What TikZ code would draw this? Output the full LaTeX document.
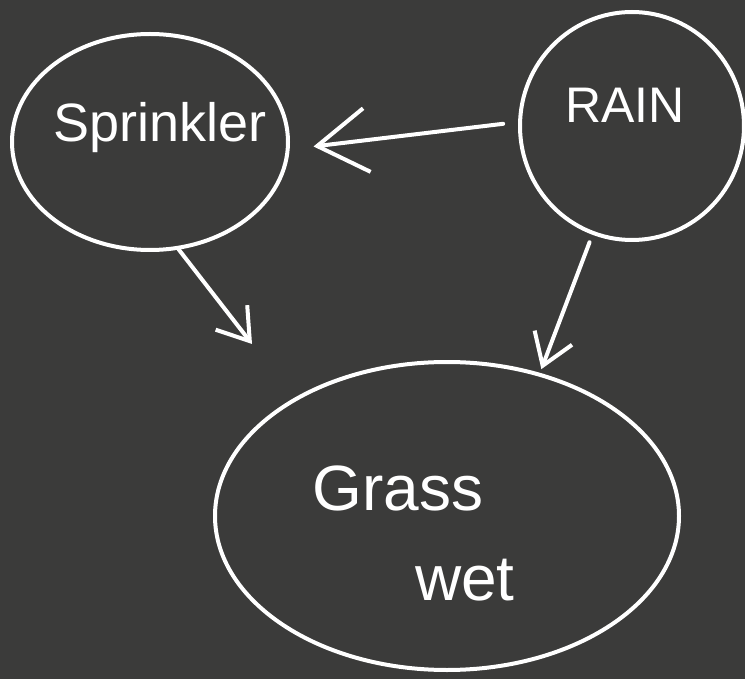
\documentclass[tikz,border=0pt]{standalone}
\usepackage{fontspec}
\setmainfont{Liberation Sans}
\usetikzlibrary{arrows.meta, shapes.geometric}
\definecolor{board}{HTML}{3B3B3A}
\tikzset{
  chalk/.style={draw=white, line width=4pt, line cap=round, line join=round},
  bubble/.style={chalk, ellipse, inner sep=0pt},
  word/.style={text=white, font=\fontsize{54}{60}\selectfont},
  bigtip/.style={-{Straight Barb[length=50pt, width=64pt, line width=4pt]}},
  smalltip/.style={-{Straight Barb[length=30pt, width=40pt, line width=4pt]}}
}
\begin{document}
\begin{tikzpicture}[x=1pt, y=-1pt]
  \fill[board] (0,0) rectangle (745,679);
  \useasboundingbox (0,0) rectangle (745,679);

  % nodes
  \node[bubble, minimum width=276pt, minimum height=216pt] (spr) at (150,142) {};
  \node[bubble, minimum width=224pt, minimum height=228pt] (rain) at (632,126) {};
  \node[bubble, minimum width=464pt, minimum height=308pt] (grass) at (447,516) {};

  % labels
  \node[word] (sprlbl) at (160,128) {Sprinkler};
  \node[word, font=\fontsize{50}{56}\selectfont] (rainlbl) at (625,105) {RAIN};
  \node[word, font=\fontsize{64}{70}\selectfont] (grasslbl) at (398,488) {Grass};
  \node[word, font=\fontsize{64}{70}\selectfont] (wetlbl) at (465,580) {wet};

  % connectors
  \coordinate (loose) at (252,344);
  \draw[chalk, bigtip, shorten <=15pt, shorten >=24pt] (rain.178) -- (spr.357);
  \draw[chalk, smalltip, shorten <=8pt, shorten >=4pt] (rain.250) -- (grass.57);
  \draw[chalk, smalltip] (spr.285) -- (loose);
\end{tikzpicture}
\end{document}
